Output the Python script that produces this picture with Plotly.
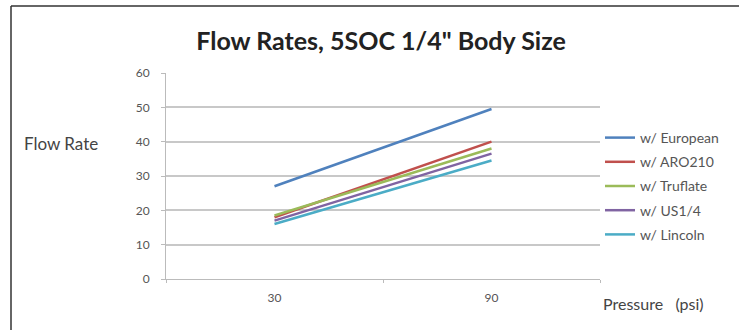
import plotly.graph_objects as go

categories = ["30", "90"]
series_names = ["w/ European", "w/ ARO210", "w/ Truflate", "w/ US1/4", "w/ Lincoln"]
european = [27, 49.5]
aro210 = [18, 40]
truflate = [18.5, 38]
us14 = [17, 36.5]
lincoln = [16, 34.5]
y_ticks = [0, 10, 20, 30, 40, 50, 60]

series_values = [european, aro210, truflate, us14, lincoln]
colors = ["#4F81BD", "#C0504D", "#9BBB59", "#8064A2", "#4BACC6"]

fig = go.Figure()
for i, (name, vals, col) in enumerate(zip(series_names, series_values, colors)):
    fig.add_trace(go.Scatter(
        x=categories, y=vals, mode="lines", name=name,
        line=dict(color=col, width=2.5),
        legendgroup=f"g{i}",
    ))

font_family = "Lato, 'Open Sans', sans-serif"

fig.update_layout(
    width=739, height=330,
    margin=dict(l=166, r=139, t=73, b=51),
    paper_bgcolor="white", plot_bgcolor="white",
    showlegend=True,
    title=dict(text="<b>Flow Rates, 5SOC 1/4\" Body Size</b>",
               x=381 / 739, xanchor="center", y=1 - 41 / 330, yanchor="middle",
               font=dict(family=font_family, size=25, color="#222222")),
    legend=dict(x=1.0, xanchor="left", y=(279 - 122) / 206, yanchor="top",
                font=dict(family=font_family, size=14, color="#555555"),
                bgcolor="rgba(0,0,0,0)", itemwidth=30, tracegroupgap=3,
                traceorder="grouped"),
    xaxis=dict(type="category", range=[-0.5, 1.5], showgrid=False,
               showline=True, linecolor="#BBBBBB", linewidth=1,
               ticks="outside", tickson="boundaries", ticklen=3, tickcolor="#BBBBBB",
               ticklabelstandoff=8,
               tickfont=dict(family=font_family, size=12, color="#555555")),
    yaxis=dict(range=[0, 60], tickvals=y_ticks, showgrid=True,
               gridcolor="#C8C8C8", gridwidth=1.5, zeroline=False,
               showline=True, linecolor="#BBBBBB", linewidth=1,
               ticks="outside", ticklen=4, tickcolor="#BBBBBB",
               ticklabelstandoff=9,
               tickfont=dict(family=font_family, size=12, color="#555555")),
)

fig.add_annotation(text="Flow Rate", xref="paper", yref="paper",
                   x=(61 - 166) / 434, y=(279 - 143) / 206, showarrow=False,
                   xanchor="center", yanchor="middle",
                   font=dict(family=font_family, size=17, color="#444444"))
fig.add_annotation(text="Pressure\u00a0\u00a0\u00a0(psi)", xref="paper", yref="paper",
                   x=(653 - 166) / 434, y=(279 - 303) / 206, showarrow=False,
                   xanchor="center", yanchor="middle",
                   font=dict(family=font_family, size=16, color="#444444"))

# outer chart frame (top and left edges visible)
fig.add_shape(type="line", xref="paper", yref="paper",
              x0=(11 - 166) / 434, x1=(745 - 166) / 434,
              y0=(279 - 6) / 206, y1=(279 - 6) / 206,
              line=dict(color="#333333", width=1.5))
fig.add_shape(type="line", xref="paper", yref="paper",
              x0=(11 - 166) / 434, x1=(11 - 166) / 434,
              y0=(279 - 6) / 206, y1=(279 - 340) / 206,
              line=dict(color="#333333", width=1.5))

fig.write_html("out.html", config={"displayModeBar": False},
               post_script="document.body.style.margin='0';")
